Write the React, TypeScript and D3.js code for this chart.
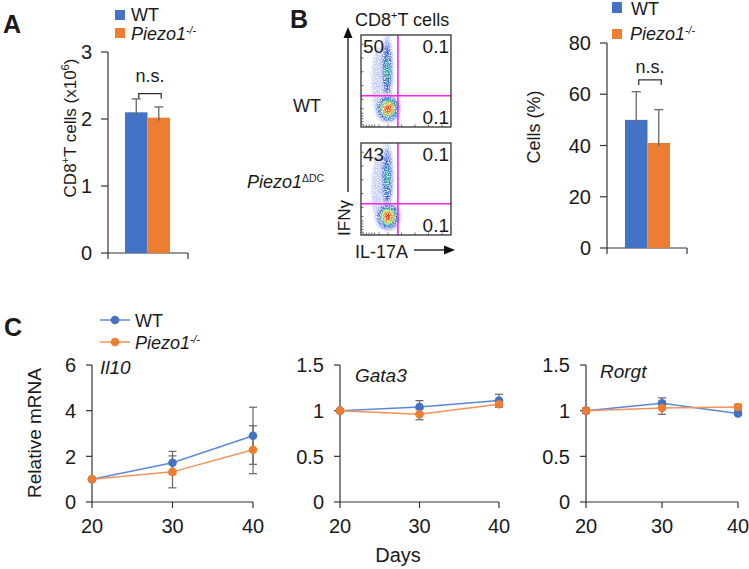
import React from 'react';
import * as d3 from 'd3';

const FONT = "'Liberation Sans', Arial, sans-serif";
const INK = '#1a1a1a';
const AXIS = '#333';
const ERR = '#666';
const BLUE = '#4472C4';
const ORANGE = '#ED7D31';
const BLUE_LINE = '#5b88dc';
const ORANGE_LINE = '#f39259';

// Panel A: CD8+ T cell counts (x10^6)
const groups = ['WT', 'Piezo1'];
const countTicks = [0, 1, 2, 3];
const countMean = [2.1, 2.02];
const countErr = [0.2, 0.16];

// Panel B: flow plots
const flowGroups = ['WT', 'Piezo1'];
const flowUL = ['50', '43'];
const flowUR = ['0.1', '0.1'];
const flowLR = ['0.1', '0.1'];
// cell populations: centre and spread in normalised log-fluorescence units, peak density
const popX = [0.2, 0.29, 0.3];
const popY = [0.5, 0.62, 0.2];
const popSx = [0.07, 0.035, 0.06];
const popSy = [0.32, 0.19, 0.065];
const popPeak = [0.1, 0.4, 1.0];
const densityLevels = [0.05, 0.1, 0.17, 0.26, 0.36, 0.5, 0.66, 0.82];

// Panel B: IFNg+ cells (%)
const pctTicks = [0, 20, 40, 60, 80];
const pctMean = [50, 41];
const pctErr = [11, 13];

// Panel C: relative mRNA over time
const days = [20, 30, 40];
const il10Ticks = [0, 2, 4, 6];
const smallTicks = [0, 0.5, 1, 1.5];
const il10WT = [1.0, 1.72, 2.9];
const il10WTErr = [0, 0.5, 1.25];
const il10KO = [1.0, 1.32, 2.29];
const il10KOErr = [0, 0.7, 1.05];
const gata3WT = [1.0, 1.04, 1.11];
const gata3WTErr = [0.02, 0.07, 0.07];
const gata3KO = [1.0, 0.96, 1.07];
const gata3KOErr = [0.02, 0.06, 0.03];
const rorgtWT = [1.0, 1.08, 0.97];
const rorgtWTErr = [0.03, 0.06, 0.02];
const rorgtKO = [1.0, 1.03, 1.04];
const rorgtKOErr = [0.02, 0.07, 0.03];

const txt = { fontFamily: FONT, fill: INK };

function PiezoLabel({ x, y, size, sup = '-/-' }: any) {
  return (
    <text x={x} y={y} fontSize={size} style={txt}>
      <tspan fontStyle="italic">Piezo1</tspan>
      <tspan fontStyle={sup === '-/-' ? 'italic' : 'normal'} fontSize={size * 0.58} dy={-size * 0.34}>{sup}</tspan>
    </text>
  );
}

function BarPanel({ y, ticks, means, errs, left, right, band, bracketVal, nsY }: any) {
  const x = d3.scaleBand().domain(groups).range(band);
  const y0 = y(0);
  const top = y(ticks[ticks.length - 1]);
  const cx = groups.map(g => (x(g) as number) + x.bandwidth() / 2);
  const by = y(bracketVal);
  return (
    <g>
      {ticks.map((t: number) => (
        <g key={t}>
          <line x1={left - 7} x2={left} y1={y(t)} y2={y(t)} stroke={AXIS} strokeWidth={1.2} />
          <text x={left - 16} y={y(t)} dy="0.36em" textAnchor="end" fontSize={20} style={txt}>{t}</text>
        </g>
      ))}
      <line x1={left} x2={left} y1={top} y2={y0 + 6} stroke={AXIS} strokeWidth={1.2} />
      <line x1={left} x2={right} y1={y0} y2={y0} stroke={AXIS} strokeWidth={1.2} />
      <line x1={right} x2={right} y1={y0} y2={y0 + 6} stroke={AXIS} strokeWidth={1.2} />
      {groups.map((g, i) => (
        <rect key={g} x={x(g)} y={y(means[i])} width={x.bandwidth()} height={y0 - y(means[i])}
          fill={i === 0 ? BLUE : ORANGE} />
      ))}
      {groups.map((g, i) => (
        <g key={g} stroke={ERR} strokeWidth={1.3}>
          <line x1={cx[i]} x2={cx[i]} y1={y(means[i]) + 3} y2={y(means[i] + errs[i])} />
          <line x1={cx[i] - 4.5} x2={cx[i] + 4.5} y1={y(means[i] + errs[i])} y2={y(means[i] + errs[i])} />
        </g>
      ))}
      <path d={`M${cx[0] + 2.5},${by + 5}V${by}H${cx[1] + 2.5}V${by + 5}`} fill="none" stroke={AXIS} strokeWidth={1.3} />
      <text x={(cx[0] + cx[1]) / 2 + 2.5} y={nsY} textAnchor="middle" fontSize={18} style={txt}>n.s.</text>
    </g>
  );
}

function FlowPlot({ idx, top }: any) {
  const left = 361, w = 90, h = 92;
  const fx = d3.scaleLinear().domain([0, 1]).range([left, left + w]);
  const fy = d3.scaleLinear().domain([0, 1]).range([top + h, top]);
  const color = d3.scaleLinear<string>()
    .domain([0.05, 0.17, 0.36, 0.55, 0.82])
    .range(['#c3cdf7', '#3354e6', '#22c08a', '#f2e41e', '#ee2a14']);
  const gateX = 0.41, gateY = 0.34;
  const clipId = `flowclip${idx}`;
  const minor = [0.03, 0.06, 0.09, 0.12, 0.15, 0.2, 0.3, 0.45, 0.6, 0.75, 0.9];
  return (
    <g>
      <defs>
        <clipPath id={clipId}><rect x={left} y={top} width={w} height={h} /></clipPath>
      </defs>
      <g clipPath={`url(#${clipId})`}>
        <g filter="url(#grain)">
          {popX.map((px, p) =>
            densityLevels.filter(l => l < popPeak[p]).map(l => {
              const r = Math.sqrt(2 * Math.log(popPeak[p] / l));
              return (
                <ellipse key={`${p}-${l}`} cx={fx(px)} cy={fy(popY[p])}
                  rx={fx(r * popSx[p]) - fx(0)} ry={fy(0) - fy(r * popSy[p])}
                  fill={color(l)} />
              );
            })
          )}
        </g>
      </g>
      <line x1={fx(gateX)} x2={fx(gateX)} y1={top} y2={top + h} stroke="#ff22ee" strokeWidth={1.6} />
      <line x1={left} x2={left + w} y1={fy(gateY)} y2={fy(gateY)} stroke="#ff22ee" strokeWidth={1.6} />
      <rect x={left} y={top} width={w} height={h} fill="none" stroke="#222" strokeWidth={1.2} />
      {minor.map(m => (
        <g key={m} stroke="#444" strokeWidth={0.8}>
          <line x1={fx(m)} x2={fx(m)} y1={top + h} y2={top + h - 2.5} />
          <line x1={left} x2={left + 2.5} y1={fy(m)} y2={fy(m)} />
        </g>
      ))}
      <text x={left + 2} y={top + 18} fontSize={19} style={txt}>{flowUL[idx]}</text>
      <text x={left + w - 2} y={top + 18} fontSize={19} textAnchor="end" style={txt}>{flowUR[idx]}</text>
      <text x={left + w - 2} y={top + h - 3} fontSize={19} textAnchor="end" style={txt}>{flowLR[idx]}</text>
    </g>
  );
}

function LinePanel({ xr, ticks, wt, wtErr, ko, koErr, gene, geneX, geneY }: any) {
  const x = d3.scaleLinear().domain([20, 40]).range(xr);
  const y = d3.scaleLinear().domain([0, ticks[ticks.length - 1]]).range([502, 365]);
  const line = d3.line<number>().x((_, i) => x(days[i])).y(v => y(v));
  const series = [
    { v: wt, e: wtErr, c: BLUE, lc: BLUE_LINE },
    { v: ko, e: koErr, c: ORANGE, lc: ORANGE_LINE },
  ];
  return (
    <g>
      {ticks.map((t: number) => (
        <g key={t}>
          <line x1={xr[0] - 6} x2={xr[0]} y1={y(t)} y2={y(t)} stroke={AXIS} strokeWidth={1.2} />
          <text x={xr[0] - 16} y={y(t)} dy="0.36em" textAnchor="end" fontSize={20} style={txt}>{t}</text>
        </g>
      ))}
      <line x1={xr[0]} x2={xr[0]} y1={y(ticks[ticks.length - 1])} y2={y(0)} stroke={AXIS} strokeWidth={1.2} />
      <line x1={xr[0]} x2={xr[1]} y1={y(0)} y2={y(0)} stroke={AXIS} strokeWidth={1.2} />
      {days.map(d => (
        <g key={d}>
          <line x1={x(d)} x2={x(d)} y1={y(0)} y2={y(0) + 6} stroke={AXIS} strokeWidth={1.2} />
          <text x={x(d)} y={y(0) + 31} textAnchor="middle" fontSize={20} style={txt}>{d}</text>
        </g>
      ))}
      <text x={geneX} y={geneY} fontSize={19} fontStyle="italic" style={txt}>{gene}</text>
      {series.map((s, k) => (
        <g key={k}>
          {days.map((d, i) => s.e[i] > 0 && (
            <g key={d} stroke={ERR} strokeWidth={1.2}>
              <line x1={x(d)} x2={x(d)} y1={y(s.v[i] - s.e[i])} y2={y(s.v[i] + s.e[i])} />
              <line x1={x(d) - 4} x2={x(d) + 4} y1={y(s.v[i] - s.e[i])} y2={y(s.v[i] - s.e[i])} />
              <line x1={x(d) - 4} x2={x(d) + 4} y1={y(s.v[i] + s.e[i])} y2={y(s.v[i] + s.e[i])} />
            </g>
          ))}
        </g>
      ))}
      {series.map((s, k) => (
        <g key={k}>
          <path d={line(s.v) as string} fill="none" stroke={s.lc} strokeWidth={1.5} />
          {days.map((d, i) => <circle key={d} cx={x(d)} cy={y(s.v[i])} r={4.3} fill={s.c} />)}
        </g>
      ))}
    </g>
  );
}

export default function App() {
  const yA = d3.scaleLinear().domain([0, 3]).range([253, 52]);
  const yB = d3.scaleLinear().domain([0, 80]).range([248, 43]);
  return (
    <svg width={749} height={569} viewBox="0 0 749 569"
      style={{ position: 'absolute', left: 0, top: 0, background: '#fff' }}>
      <defs>
        <filter id="grain" x="-10%" y="-10%" width="120%" height="120%">
          <feGaussianBlur in="SourceGraphic" stdDeviation={1.3} result="blur" />
          <feTurbulence type="fractalNoise" baseFrequency={0.85} numOctaves={2} seed={3} result="noise" />
          <feColorMatrix in="noise" type="matrix"
            values="0 0 0 0 1  0 0 0 0 1  0 0 0 0 1  0 0 0 3 -0.75" result="speck" />
          <feComposite in="blur" in2="speck" operator="in" />
        </filter>
      </defs>
      <rect width={749} height={569} fill="#fff" />

      {/* Panel A */}
      <text x={3} y={33} fontSize={25} fontWeight="bold" style={txt}>A</text>
      <rect x={115} y={10} width={10} height={10} fill={BLUE} />
      <text x={131} y={21} fontSize={18} style={txt}>WT</text>
      <rect x={115} y={28} width={10} height={10} fill={ORANGE} />
      <PiezoLabel x={131} y={40} size={18} />
      <text transform="translate(76,128) rotate(-90)" textAnchor="middle" fontSize={17} style={txt}>
        CD8<tspan fontSize={11} dy={-7}>+</tspan><tspan dy={7}>T cells (x10</tspan><tspan fontSize={11} dy={-7}>6</tspan><tspan dy={7}>)</tspan>
      </text>
      <BarPanel y={yA} ticks={countTicks} means={countMean} errs={countErr}
        left={108} right={188} band={[125, 170]} bracketVal={2.38} nsY={82} />

      {/* Panel B: flow */}
      <text x={290} y={28} fontSize={25} fontWeight="bold" style={txt}>B</text>
      <text x={355} y={26} fontSize={18} style={txt}>
        CD8<tspan fontSize={11} dy={-7}>+</tspan><tspan dy={7}>T cells</tspan>
      </text>
      <text x={293} y={112} fontSize={18} style={txt}>{flowGroups[0]}</text>
      <PiezoLabel x={247} y={188} size={18} sup="ΔDC" />
      <FlowPlot idx={0} top={35} />
      <FlowPlot idx={1} top={143} />
      <line x1={348} x2={348} y1={192} y2={36} stroke="#111" strokeWidth={1.3} />
      <path d="M343.5,38L348,27L352.5,38Z" fill="#111" />
      <text transform="translate(350,218) rotate(-90)" textAnchor="middle" fontSize={17} style={txt}>IFNγ</text>
      <text x={355} y={258} fontSize={18} style={txt}>IL-17A</text>
      <line x1={414} x2={446} y1={250} y2={250} stroke="#111" strokeWidth={1.3} />
      <path d="M444,245.5L455,250L444,254.5Z" fill="#111" />

      {/* Panel B: bars */}
      <rect x={612} y={2} width={10} height={11} fill={BLUE} />
      <text x={631} y={15} fontSize={18} style={txt}>WT</text>
      <rect x={612} y={29} width={10} height={10} fill={ORANGE} />
      <PiezoLabel x={630} y={40} size={18} />
      <text transform="translate(540,127) rotate(-90)" textAnchor="middle" fontSize={18} style={txt}>Cells (%)</text>
      <BarPanel y={yB} ticks={pctTicks} means={pctMean} errs={pctErr}
        left={607} right={687} band={[625, 670]} bracketVal={65.6} nsY={73} />

      {/* Panel C */}
      <text x={4} y={336} fontSize={25} fontWeight="bold" style={txt}>C</text>
      <line x1={100} x2={130} y1={320} y2={320} stroke={BLUE_LINE} strokeWidth={1.5} />
      <circle cx={115} cy={320} r={4.3} fill={BLUE} />
      <text x={135} y={327} fontSize={18} style={txt}>WT</text>
      <line x1={100} x2={130} y1={342} y2={342} stroke={ORANGE_LINE} strokeWidth={1.5} />
      <circle cx={115} cy={342} r={4.3} fill={ORANGE} />
      <PiezoLabel x={135} y={349} size={18} />
      <text transform="translate(41,433) rotate(-90)" textAnchor="middle" fontSize={19} style={txt}>Relative mRNA</text>
      <LinePanel xr={[92, 253]} ticks={il10Ticks} wt={il10WT} wtErr={il10WTErr} ko={il10KO} koErr={il10KOErr}
        gene="Il10" geneX={100} geneY={374} />
      <LinePanel xr={[340, 499]} ticks={smallTicks} wt={gata3WT} wtErr={gata3WTErr} ko={gata3KO} koErr={gata3KOErr}
        gene="Gata3" geneX={355} geneY={382} />
      <LinePanel xr={[586, 738]} ticks={smallTicks} wt={rorgtWT} wtErr={rorgtWTErr} ko={rorgtKO} koErr={rorgtKOErr}
        gene="Rorgt" geneX={600} geneY={378} />
      <text x={398} y={562} textAnchor="middle" fontSize={20} style={txt}>Days</text>
    </svg>
  );
}
